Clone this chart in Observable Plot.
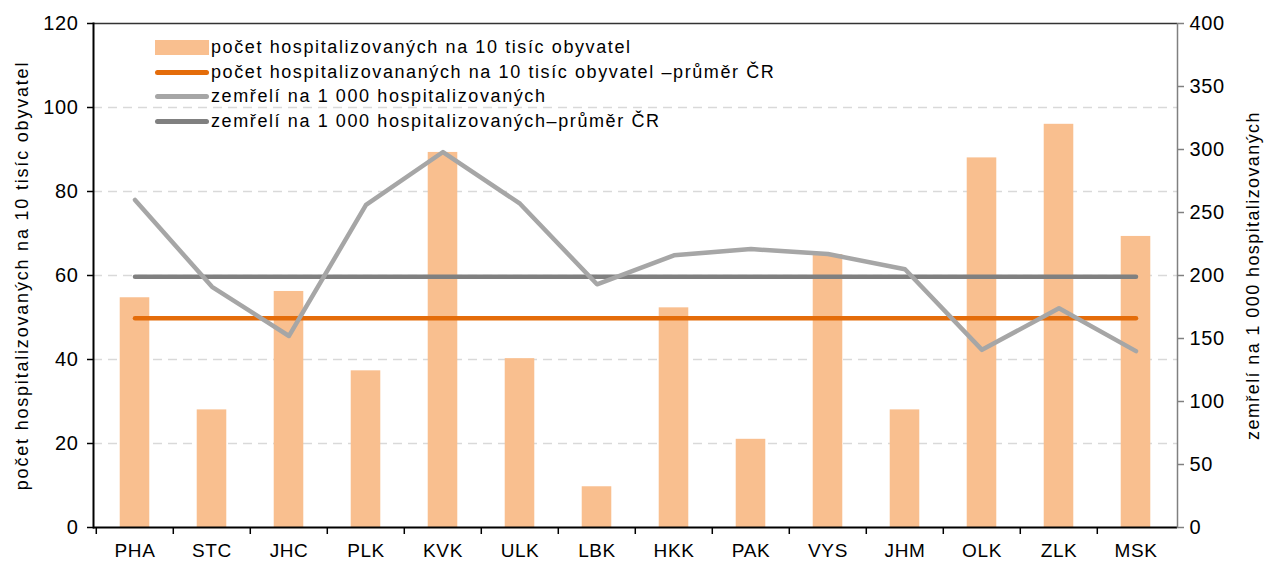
<!DOCTYPE html>
<html><head><meta charset="utf-8">
<script src="https://cdn.jsdelivr.net/npm/d3@7"></script>
<script src="https://cdn.jsdelivr.net/npm/@observablehq/plot@0.6"></script>
<style>
body{margin:0;background:#fff;font-family:"Liberation Sans",Arial,sans-serif;}
#wrap{position:relative;width:1265px;height:563px;}
#legend{position:absolute;left:155px;top:35px;font-size:18px;letter-spacing:1.6px;line-height:24.7px;color:#000;}
.row{display:flex;align-items:center;height:24.7px;white-space:nowrap;}
.sw{flex:0 0 54px;width:54px;margin-right:2px;display:inline-block;}
</style></head>
<body><div id="wrap"><div id="chart"></div><div id="legend"></div></div>
<script>
const regions = ["PHA","STC","JHC","PLK","KVK","ULK","LBK","HKK","PAK","VYS","JHM","OLK","ZLK","MSK"];
const hospPer10k = [54.7,28.0,56.2,37.3,89.3,40.2,9.7,52.3,21.0,65.0,28.0,88.0,96.0,69.3];
const hospAvgCR = 49.8;
const deathsPer1000 = [260,191,152,256,298,257,193,216,221,217,205,141,174,140];
const deathsAvgCR = 199;
const leftTicks = [0,20,40,60,80,100,120];
const rightTicks = [0,50,100,150,200,250,300,350,400];
const seriesNames = [
  "počet hospitalizovaných na 10 tisíc obyvatel",
  "počet hospitalizovananých na 10 tisíc obyvatel –průměr ČR",
  "zemřelí na 1 000 hospitalizovaných",
  "zemřelí na 1 000 hospitalizovaných–průměr ČR"
];
const colors = ["#F9BF8F","#E46C0A","#A6A6A6","#808080"];
const leftLabel = "počet hospitalizovaných na 10 tisíc obyvatel";
const rightLabel = "zemřelí na 1 000 hospitalizovaných";

const k = 120/400;
const rows = regions.map((r,i)=>({r, hosp: hospPer10k[i], hospAvg: hospAvgCR, death: deathsPer1000[i]*k, deathAvg: deathsAvgCR*k}));
const W = 1265, H = 563, mL = 93, mR = 88, mT = 23, mB = 36;
const bw = (W - mL - mR)/regions.length;
const inset = (bw - 30)/2;

const chart = Plot.plot({
  width: W, height: H,
  marginLeft: mL, marginRight: mR, marginTop: mT, marginBottom: mB,
  style: {fontFamily: "Liberation Sans, Arial, sans-serif", fontSize: "20px", letterSpacing: "0.6px", color: "#000", background: "#fff"},
  x: {type: "band", domain: regions, padding: 0},
  y: {domain: [0,120]},
  marks: [
    Plot.gridY([20,40,60,80,100], {stroke: "#d9d9d9", strokeOpacity: 1, strokeDasharray: "9,6", strokeWidth: 1.3}),
    Plot.barY(rows, {x: "r", y: "hosp", fill: colors[0], insetLeft: inset, insetRight: inset}),
    Plot.line(rows, {x: "r", y: "hospAvg", stroke: colors[1], strokeWidth: 4.5, strokeLinecap: "round"}),
    Plot.line(rows, {x: "r", y: "deathAvg", stroke: colors[3], strokeWidth: 4.5, strokeLinecap: "round"}),
    Plot.line(rows, {x: "r", y: "death", stroke: colors[2], strokeWidth: 4.5, strokeLinecap: "round", strokeLinejoin: "round"}),
    Plot.ruleY([120], {stroke: "#333", strokeWidth: 1.5}),
    Plot.ruleY([0], {stroke: "#000", strokeWidth: 2}),
    Plot.frame({anchor: "left", stroke: "#000", strokeWidth: 2}),
    Plot.frame({anchor: "right", stroke: "#808080", strokeWidth: 1.5}),
    Plot.axisY(leftTicks, {anchor: "left", tickSize: 6, tickPadding: 9, stroke: "#000", strokeWidth: 1.5, fontSize: 20,
      label: null}),
    Plot.axisY(rightTicks.map(v=>v*k), {anchor: "right", tickSize: 6, tickPadding: 6, stroke: "#808080", strokeWidth: 1.5, fontSize: 20,
      tickFormat: d => String(Math.round(d/k)), label: null}),
    Plot.text([leftLabel], {frameAnchor: "left", rotate: -90, dx: -71, fontSize: 18, textAnchor: "middle", lineAnchor: "middle"}),
    Plot.text([rightLabel], {frameAnchor: "right", rotate: -90, dx: 76, fontSize: 18, textAnchor: "middle", lineAnchor: "middle"}),
    Plot.axisX({tickSize: 7, text: null, dx: -bw/2, stroke: "#000", strokeWidth: 1.5, label: null}),
    Plot.axisX({tickSize: 0, tickPadding: 16, label: null, fontSize: 19})
  ]
});
document.getElementById("chart").appendChild(chart);
chart.querySelectorAll("text").forEach(t => {
  const s = t.textContent;
  if (s === leftLabel) t.style.letterSpacing = "1.8px";
  if (s === rightLabel) t.style.letterSpacing = "1.4px";
});

const lg = document.getElementById("legend");
seriesNames.forEach((name,i)=>{
  const row = document.createElement("div"); row.className = "row";
  const sw = document.createElement("span"); sw.className = "sw";
  if (i===0){ sw.style.height="15px"; sw.style.background=colors[0]; }
  else { sw.style.height="5px"; sw.style.borderRadius="3px"; sw.style.background=colors[i]; }
  const t = document.createElement("span"); t.textContent = name;
  row.appendChild(sw); row.appendChild(t); lg.appendChild(row);
});
</script></body></html>
